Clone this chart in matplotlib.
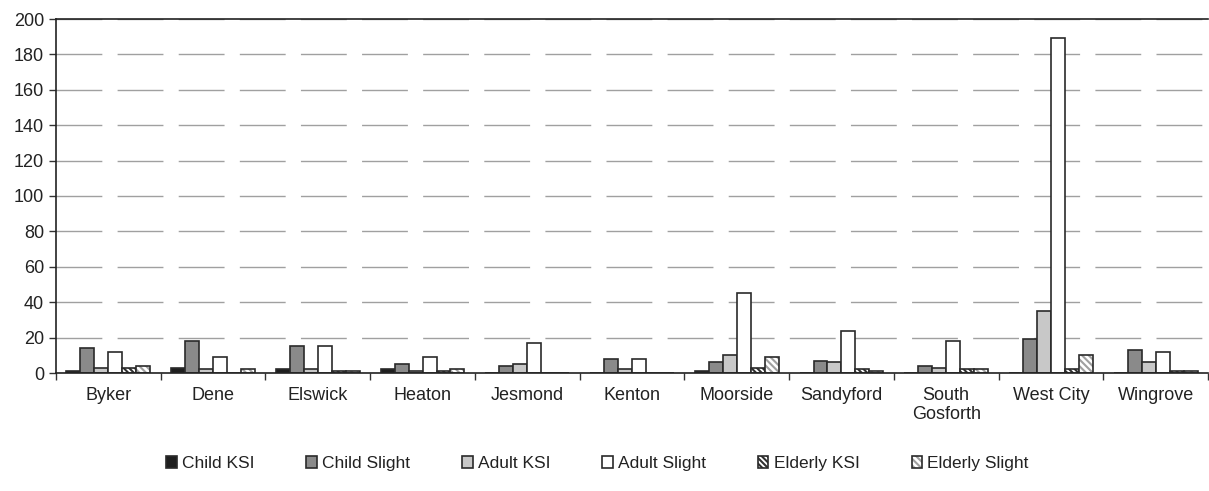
import matplotlib.pyplot as plt
import numpy as np

plt.rcParams['font.family'] = ['Liberation Sans', 'DejaVu Sans']
plt.rcParams['hatch.linewidth'] = 1.5

wards = ['Byker', 'Dene', 'Elswick', 'Heaton', 'Jesmond', 'Kenton',
         'Moorside', 'Sandyford', 'South\nGosforth', 'West City', 'Wingrove']

child_ksi = [1, 3, 2, 2, 0, 0, 1, 0, 0, 0, 0]
child_slight = [14, 18, 15, 5, 4, 8, 6, 7, 4, 19, 13]
adult_ksi = [3, 2, 2, 1, 5, 2, 10, 6, 3, 35, 6]
adult_slight = [12, 9, 15, 9, 17, 8, 45, 24, 18, 189, 12]
elderly_ksi = [3, 0, 1, 1, 0, 0, 3, 2, 2, 2, 1]
elderly_slight = [4, 2, 1, 2, 0, 0, 9, 1, 2, 10, 1]

series = [
    ('Child KSI', child_ksi, dict(color='#1e1e1e')),
    ('Child Slight', child_slight, dict(color='#8a8a8a')),
    ('Adult KSI', adult_ksi, dict(color='#c8c8c8')),
    ('Adult Slight', adult_slight, dict(color='white')),
    ('Elderly KSI', elderly_ksi, dict(color='white', hatch='\\' * 6)),
    ('Elderly Slight', elderly_slight, dict(color='white', hatch='\\' * 5)),
]
hatch_colors = {'Elderly KSI': '#303030', 'Elderly Slight': '#a0a0a0'}

fig = plt.figure(figsize=(12.09, 4.91), dpi=100)
ax = fig.add_axes([56 / 1209, 1 - 373 / 491, 1152 / 1209, 354 / 491])

x = np.arange(len(wards))
w = 1 / 7.5
for i, (name, vals, style) in enumerate(series):
    pos = x - 0.5 + 0.75 * w + (i + 0.5) * w
    bars = ax.bar(pos, vals, width=w, label=name, linewidth=1.2,
                  edgecolor='#2a2a2a', **style)
    if name in hatch_colors:
        for b in bars:
            b._hatch_color = plt.matplotlib.colors.to_rgba(hatch_colors[name])

ax.set_xlim(-0.5, len(wards) - 0.5)
ax.set_ylim(0, 200)
ax.set_yticks(range(0, 201, 20))
ax.set_xticks(x)
ax.set_xticklabels(wards, fontsize=13, color='#222222')
ax.set_xticks(np.arange(-0.5, len(wards), 1), minor=True)
ax.tick_params(axis='x', which='major', length=0, pad=10)
ax.tick_params(axis='x', which='minor', length=5, width=1, color='#333333')
ax.tick_params(axis='y', length=5, width=1, color='#333333',
               labelsize=13, labelcolor='#222222')

ax.yaxis.grid(True, color='#a0a0a0', linewidth=1, linestyle=(0, (33, 11)))
ax.set_axisbelow(True)
for side in ['left', 'bottom', 'top']:
    ax.spines[side].set_color('#222222')
    ax.spines[side].set_linewidth(1.2)
ax.spines['right'].set_visible(False)

leg = ax.legend(loc='center', bbox_to_anchor=(0.47, -0.255), ncol=6,
                frameon=False, fontsize=12.5, handlelength=0.6,
                handleheight=0.75, handletextpad=0.3, columnspacing=3.0)
for t in leg.get_texts():
    t.set_color('#222222')

fig.savefig('out.png', dpi=100)
